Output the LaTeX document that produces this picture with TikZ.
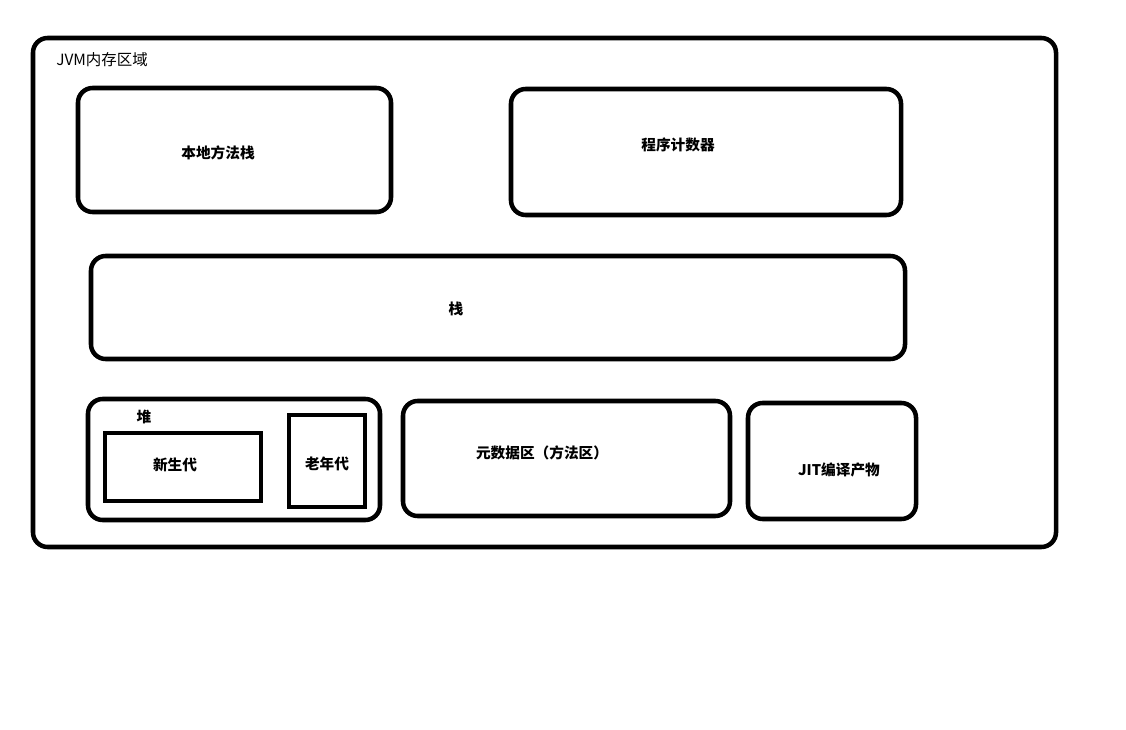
\documentclass[tikz,border=0pt]{standalone}
\usepackage{fontspec}
\setmainfont{Noto Sans CJK SC}
\begin{document}
\begin{tikzpicture}[x=0.75pt,y=-0.75pt,
  region/.style={draw,line width=3.4pt,rounded corners=11pt,inner sep=0pt},
  gen/.style={draw,line width=3.4pt,inner sep=0pt},
  lbl/.style={font=\fontsize{11}{13}\selectfont\bfseries,inner sep=0pt},
  title/.style={font=\fontsize{11.6}{13}\selectfont,inner sep=0pt,anchor=west}]
\useasboundingbox (0,0) rectangle (1126,730);
\fill[white] (0,0) rectangle (1126,730);
% outer
\node[region,minimum width=1023*0.75pt,minimum height=509*0.75pt] (jvm) at (544.5,292.5) {};
\node[title] (jvmt) at (56,60) {JVM内存区域};
% native method stack
\node[region,minimum width=313*0.75pt,minimum height=124*0.75pt] (native) at (234.5,150) {};
\node[lbl] (nativet) at (218,153) {本地方法栈};
% pc
\node[region,minimum width=390*0.75pt,minimum height=126*0.75pt] (pc) at (706,152) {};
\node[lbl] (pct) at (678,145) {程序计数器};
% stack
\node[region,minimum width=814*0.75pt,minimum height=103*0.75pt] (stack) at (498,307.5) {};
\node[lbl] (stackt) at (456,309) {栈};
% heap
\node[region,minimum width=292*0.75pt,minimum height=121*0.75pt] (heap) at (234,459.5) {};
\node[lbl] (heapt) at (144,417) {堆};
\node[gen,minimum width=156*0.75pt,minimum height=68*0.75pt] (young) at (183,467) {};
\node[lbl] (youngt) at (175,465) {新生代};
\node[gen,minimum width=76*0.75pt,minimum height=92*0.75pt] (old) at (327,461) {};
\node[lbl] (oldt) at (327,464) {老年代};
% metaspace
\node[region,minimum width=327*0.75pt,minimum height=115*0.75pt] (meta) at (566.5,458.5) {};
\node[lbl] (metat) at (542,453) {元数据区（方法区）};
% JIT
\node[region,minimum width=168*0.75pt,minimum height=116*0.75pt] (jit) at (832,461) {};
\node[lbl] (jitt) at (839,470) {JIT编译产物};
\end{tikzpicture}
\end{document}
